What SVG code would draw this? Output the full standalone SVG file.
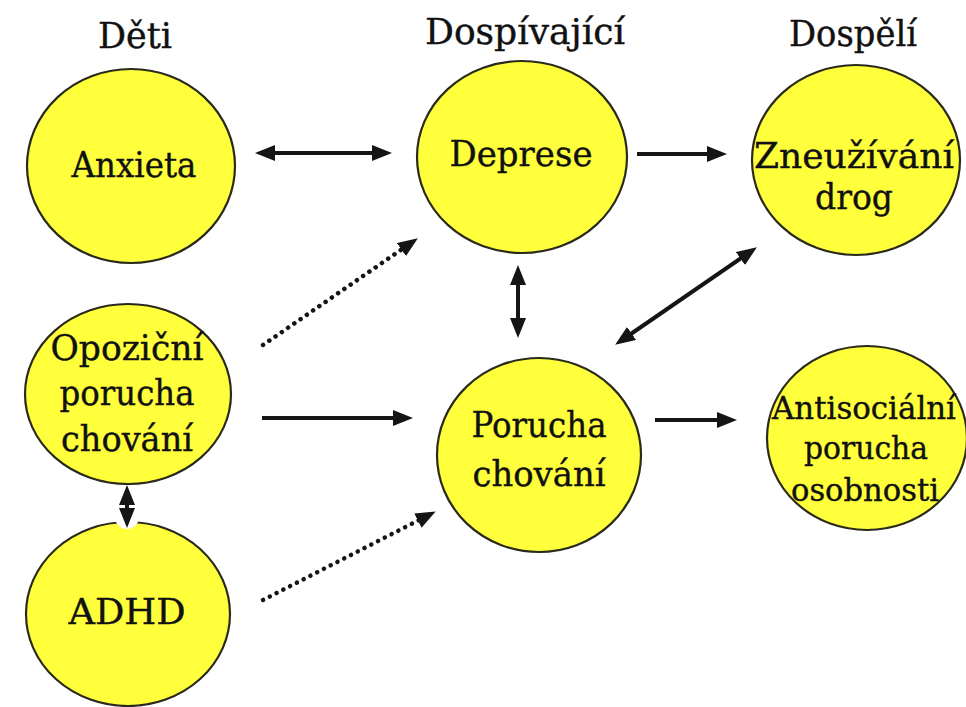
<svg xmlns="http://www.w3.org/2000/svg" width="966" height="707" viewBox="0 0 966 707">
<defs>
<style>
.node{fill:#FFFF3C;stroke:#2a2a1a;stroke-width:2.2}
.t{font-family:'DejaVu Serif','Liberation Serif',serif;fill:#111;stroke:#111;stroke-width:0.4;text-anchor:middle}
.h{font-size:35px}
.n{font-size:36px}
.a{font-size:31px}
.c{stroke:#151515;stroke-width:4;fill:none}
.d{stroke:#151515;stroke-width:4.5;fill:none;stroke-dasharray:0.1 7.5;stroke-linecap:round}
</style>
<marker id="ah" viewBox="0 0 20 16" markerUnits="userSpaceOnUse" markerWidth="20" markerHeight="16" refX="8" refY="8" orient="auto-start-reverse">
<path d="M0,0 L20,8 L0,16 z" fill="#151515"/>
</marker>
</defs>
<rect width="966" height="707" fill="#fff"/>
<g id="headers">
<text class="t h" x="135" y="48" textLength="74" lengthAdjust="spacingAndGlyphs">Děti</text>
<text class="t h" x="525" y="44" textLength="200" lengthAdjust="spacingAndGlyphs">Dospívající</text>
<text class="t h" x="853" y="46" textLength="128" lengthAdjust="spacingAndGlyphs">Dospělí</text>
</g>
<g id="anxieta">
<ellipse class="node" cx="131" cy="166" rx="104" ry="97"/>
<text class="t n" x="134" y="177" textLength="125" lengthAdjust="spacingAndGlyphs">Anxieta</text>
</g>
<g id="deprese">
<ellipse class="node" cx="522" cy="157" rx="105" ry="96"/>
<text class="t n" x="521" y="166" textLength="143" lengthAdjust="spacingAndGlyphs">Deprese</text>
</g>
<g id="zneuzivani">
<ellipse class="node" cx="856" cy="160" rx="104" ry="95"/>
<text class="t n" x="854" y="168" textLength="200" lengthAdjust="spacingAndGlyphs">Zneužívání</text>
<text class="t n" x="854" y="209" textLength="78" lengthAdjust="spacingAndGlyphs">drog</text>
</g>
<g id="opozicni">
<ellipse class="node" cx="128" cy="394" rx="103" ry="90"/>
<text class="t n" x="127" y="360" textLength="153" lengthAdjust="spacingAndGlyphs">Opoziční</text>
<text class="t n" x="127" y="405" textLength="135" lengthAdjust="spacingAndGlyphs">porucha</text>
<text class="t n" x="127" y="451" textLength="132" lengthAdjust="spacingAndGlyphs">chování</text>
</g>
<g id="adhd">
<ellipse class="node" cx="128" cy="614" rx="102" ry="92"/>
<circle cx="127" cy="517" r="12" fill="#fff"/>
<text class="t n" x="127" y="624" textLength="117" lengthAdjust="spacingAndGlyphs">ADHD</text>
</g>
<g id="porucha">
<ellipse class="node" cx="539" cy="455" rx="102" ry="97"/>
<text class="t n" x="539" y="437" textLength="135" lengthAdjust="spacingAndGlyphs">Porucha</text>
<text class="t n" x="539" y="486" textLength="133" lengthAdjust="spacingAndGlyphs">chování</text>
</g>
<g id="antisocialni">
<ellipse class="node" cx="867" cy="438" rx="100" ry="92"/>
<text class="t a" x="864" y="419" textLength="184" lengthAdjust="spacingAndGlyphs">Antisociální</text>
<text class="t a" x="866" y="459" textLength="124" lengthAdjust="spacingAndGlyphs">porucha</text>
<text class="t a" x="865" y="501" textLength="148" lengthAdjust="spacingAndGlyphs">osobnosti</text>
</g>
<g id="connectors">
<line class="c" x1="267" y1="153" x2="380" y2="153" marker-start="url(#ah)" marker-end="url(#ah)"/>
<line class="c" x1="637" y1="154" x2="715" y2="154" marker-end="url(#ah)"/>
<line class="d" x1="263" y1="345" x2="408" y2="245" marker-end="url(#ah)"/>
<line class="c" x1="625" y1="338" x2="747" y2="254" marker-start="url(#ah)" marker-end="url(#ah)"/>
<line class="c" x1="518" y1="277" x2="518" y2="326" marker-start="url(#ah)" marker-end="url(#ah)"/>
<line class="c" x1="262" y1="418" x2="401" y2="418" marker-end="url(#ah)"/>
<line class="c" x1="655" y1="420" x2="725" y2="420" marker-end="url(#ah)"/>
<line class="d" x1="263" y1="600" x2="425" y2="517" marker-end="url(#ah)"/>
<line class="c" x1="127" y1="497" x2="127" y2="516" marker-start="url(#ah)" marker-end="url(#ah)"/>
</g>
</svg>
